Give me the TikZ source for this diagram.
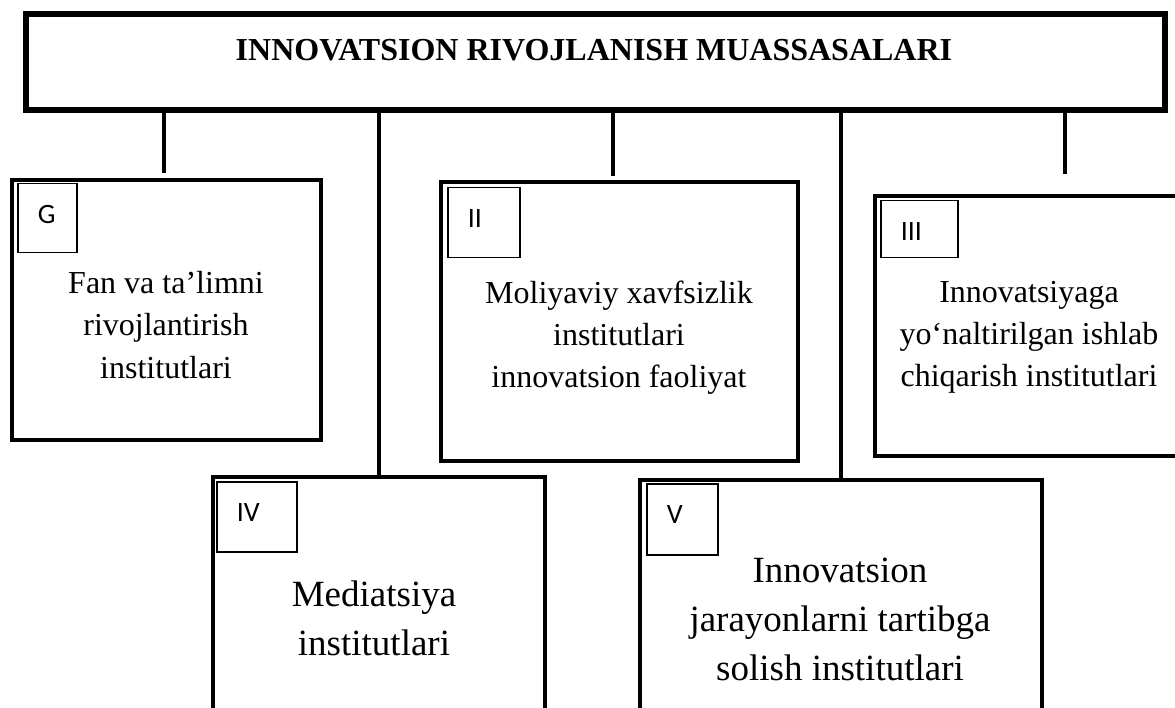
\documentclass[tikz,border=0pt]{standalone}
\usepackage{fontspec}
\setmainfont{Liberation Serif}
\newfontfamily\tagfont{Carlito}
\usetikzlibrary{calc}
\tikzset{
  head/.style={draw, line width=6pt, inner sep=0pt, minimum width=1139pt, minimum height=96pt},
  unit/.style={draw, line width=4pt, inner sep=0pt},
  tag/.style 2 args={draw, line width=1.5pt, anchor=north west, inner xsep=20pt, inner ysep=10pt,
    align=left, text width=#1, text height=30pt, text depth=#2, font=\tagfont\fontsize{28}{30}\selectfont},
  txt/.style={align=center, anchor=base, inner sep=0pt, font=\fontsize{32}{42.5}\selectfont},
  txtb/.style={align=center, anchor=base, inner sep=0pt, font=\fontsize{37}{49}\selectfont},
  link/.style={draw, line width=4pt},
}
\begin{document}
\begin{tikzpicture}[x=1pt,y=-1pt]
  \path[use as bounding box, clip] (0,0) rectangle (1175,708);

  % head box
  \node[head] (top) at (595.5,62) {};
  \node[anchor=base, inner sep=0pt, font=\fontsize{32}{38}\selectfont\bfseries] (title) at (594,61)
    {INNOVATSION RIVOJLANISH MUASSASALARI};

  % institute boxes
  \node[unit, minimum width=309pt, minimum height=260pt] (fan) at (166.5,310) {};
  \node[unit, minimum width=357pt, minimum height=279pt] (moliya) at (619.5,321.5) {};
  \node[unit, minimum width=308pt, minimum height=260pt] (ishlab) at (1029,326) {};
  \node[unit, minimum width=332pt, minimum height=263pt] (media) at (379,608.5) {};
  \node[unit, minimum width=402pt, minimum height=260pt] (tartib) at (841,610) {};

  % number tags
  \node[tag={19pt}{19pt}] (tfan) at ($(fan.north west)+(7,5)$) {G};
  \node[tag={32pt}{20pt}] (tmoliya) at ($(moliya.north west)+(8,7)$) {II};
  \node[tag={37pt}{7pt}] (tishlab) at ($(ishlab.north west)+(7,6)$) {III};
  \node[tag={40pt}{20pt}] (tmedia) at ($(media.north west)+(5,6)$) {IV};
  \node[tag={31pt}{21pt}] (ttartib) at ($(tartib.north west)+(8,5)$) {V};

  % texts (anchored at the last line)
  \node[txt] (xfan) at (166,378) {Fan va ta’limni\\rivojlantirish\\institutlari};
  \node[txt] (xmoliya) at (619,388) {Moliyaviy xavfsizlik\\institutlari\\innovatsion faoliyat};
  \node[txt] (xishlab) at (1029,387) {Innovatsiyaga\\yo‘naltirilgan ishlab\\chiqarish institutlari};
  \node[txtb] (xmedia) at (374,655) {Mediatsiya\\institutlari};
  \node[txtb] (xtartib) at (840,680) {Innovatsion\\jarayonlarni tartibga\\solish institutlari};

  % connectors
  \coordinate (cfan) at (164,173);
  \coordinate (cmoliya) at (613,176);
  \coordinate (cishlab) at (1065,174);
  \draw[link] (top.south -| cfan) -- (cfan);
  \draw[link] (top.south -| media.north) -- (media.north);
  \draw[link] (top.south -| cmoliya) -- (cmoliya);
  \draw[link] (top.south -| tartib.north) -- (tartib.north);
  \draw[link] (top.south -| cishlab) -- (cishlab);
\end{tikzpicture}
\end{document}
